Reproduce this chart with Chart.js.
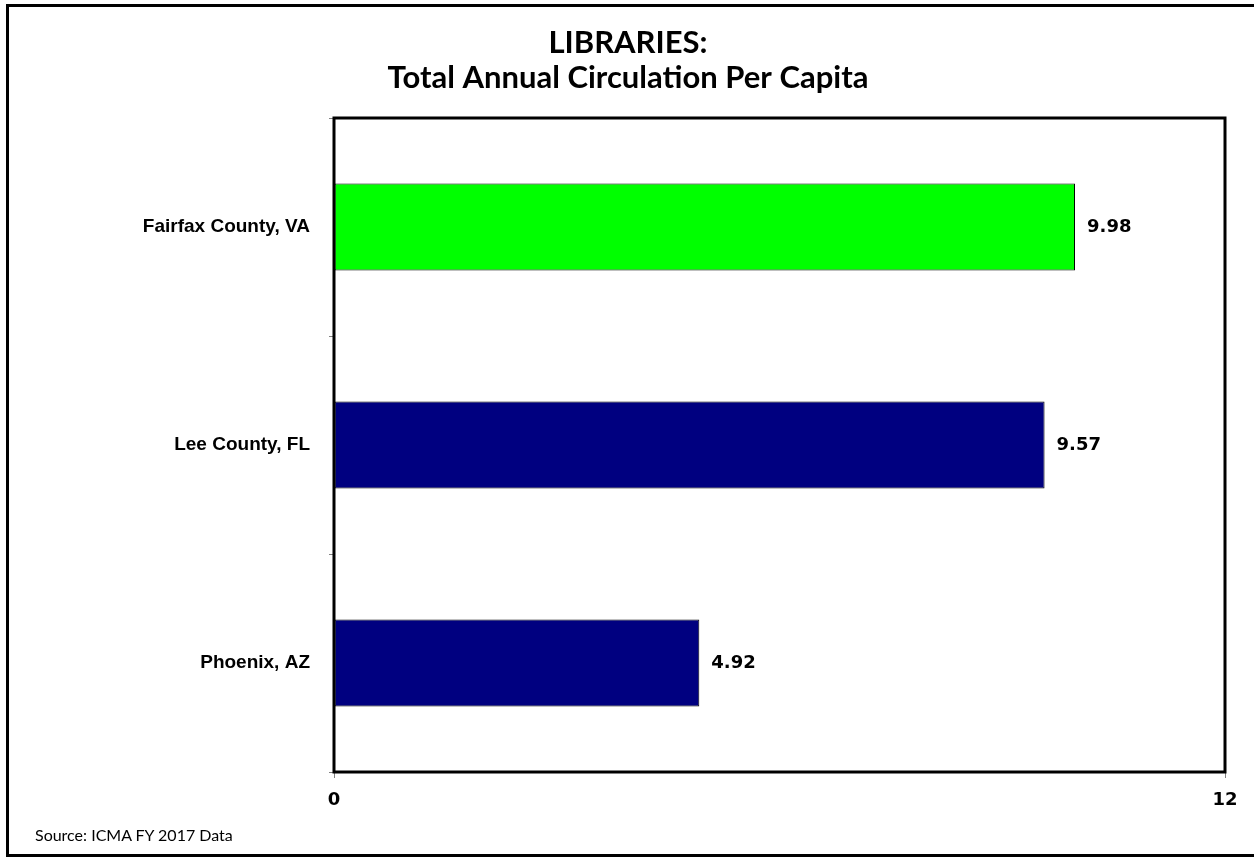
<!DOCTYPE html>
<html>
<head>
<meta charset="utf-8">
<script src="https://cdn.jsdelivr.net/npm/chart.js@4"></script>
<style>
  html, body { margin: 0; padding: 0; background: #fff; overflow: hidden; }
  #wrap { position: relative; width: 1254px; height: 859px; }
  #frame { position: absolute; left: 6px; top: 4px; width: 1260px; height: 853px; border: 3px solid #000; box-sizing: border-box; border-right: none; pointer-events: none; }
  #src { position: absolute; left: 35px; top: 825px; font-family: Lato, "Open Sans", sans-serif; font-size: 16px; color: #000; }
  canvas { position: absolute; left: 0; top: 0; }
</style>
</head>
<body>
<div id="wrap">
  <canvas id="c" width="1254" height="859"></canvas>
  <div id="frame"></div>
  <div id="src">Source: ICMA FY 2017 Data</div>
</div>
<script>
const categories = ["Fairfax County, VA", "Lee County, FL", "Phoenix, AZ"];
const values = [9.98, 9.57, 4.92];
const valueLabels = ["9.98", "9.57", "4.92"];
const barColors = ["#00FF00", "#000080", "#000080"];
const xTicks = [0, 12];
const titleLines = ["LIBRARIES:", "Total Annual Circulation Per Capita"];

const labelPlugin = {
  id: 'valueLabels',
  afterDatasetsDraw(chart) {
    const ctx = chart.ctx;
    const meta = chart.getDatasetMeta(0);
    const xs = chart.scales.x;
    ctx.save();
    ctx.font = 'bold 18px "DejaVu Sans", Verdana, sans-serif';
    ctx.fillStyle = '#000';
    ctx.textAlign = 'left';
    ctx.textBaseline = 'middle';
    meta.data.forEach((bar, i) => {
      const x = xs.getPixelForValue(values[i]) + 12;
      ctx.fillText(valueLabels[i], x, bar.y);
    });
    ctx.restore();
  },
  afterDraw(chart) {
    const a = chart.chartArea;
    const ctx = chart.ctx;
    ctx.save();
    ctx.strokeStyle = '#000';
    ctx.lineWidth = 3;
    ctx.strokeRect(a.left, a.top, a.right - a.left, a.bottom - a.top);
    // title
    ctx.fillStyle = '#000';
    ctx.textAlign = 'center';
    ctx.textBaseline = 'middle';
    ctx.font = 'bold 31px Lato, "Open Sans", sans-serif';
    ctx.fillText(titleLines[0], 628, 43);
    ctx.fillText(titleLines[1], 628, 78);
    ctx.restore();
  }
};

new Chart(document.getElementById('c'), {
  type: 'bar',
  data: {
    labels: categories,
    datasets: [{
      data: values,
      backgroundColor: barColors,
      borderColor: '#000',
      borderWidth: 1,
      borderSkipped: false,
      barPercentage: 0.4,
      categoryPercentage: 1.0
    }]
  },
  options: {
    indexAxis: 'y',
    responsive: false,
    animation: false,
    devicePixelRatio: 1,
    layout: { padding: { left: 0, right: 29, top: 118, bottom: 47 } },
    plugins: {
      legend: { display: false },
      tooltip: { enabled: false },
      title: { display: false }
    },
    scales: {
      x: {
        min: 0, max: 12,
        afterBuildTicks(scale) { scale.ticks = xTicks.map(v => ({ value: v })); },
        afterFit(scale) { scale.height = 40; },
        grid: { drawOnChartArea: false, drawTicks: true, tickLength: 6, color: '#808080' },
        border: { display: false },
        ticks: {
          color: '#000',
          padding: 12,
          maxRotation: 0,
          font: { family: '"DejaVu Sans", Verdana, sans-serif', size: 18, weight: 'bold' }
        }
      },
      y: {
        afterFit(scale) { scale.width = 334; },
        grid: { drawOnChartArea: false, drawTicks: true, tickLength: 5, color: '#808080', offset: true },
        border: { display: false },
        ticks: {
          color: '#000',
          padding: 19,
          font: { family: '"Liberation Sans", Arial, sans-serif', size: 19, weight: 'bold' }
        }
      }
    }
  },
  plugins: [labelPlugin]
});
</script>
</body>
</html>
